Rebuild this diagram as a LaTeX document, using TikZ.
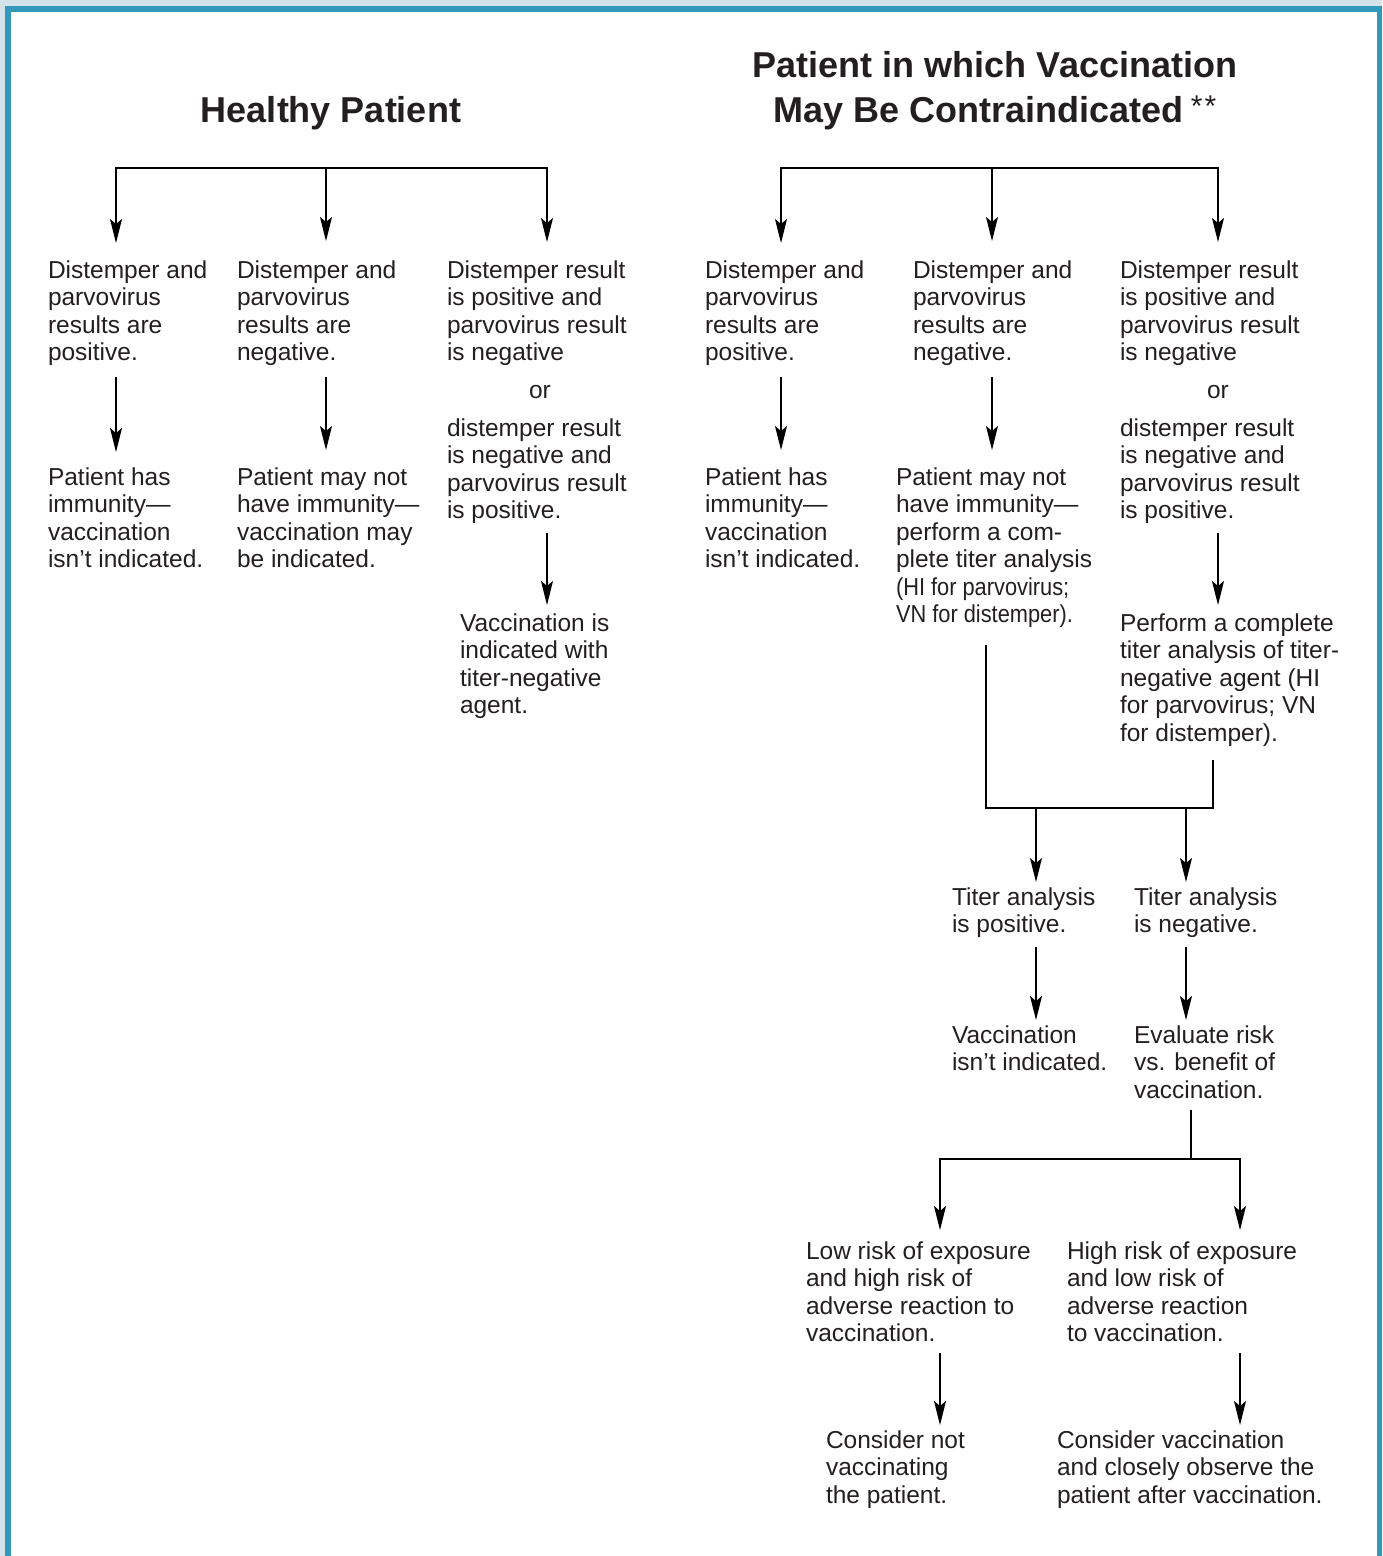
\documentclass[tikz,border=0pt]{standalone}
\usepackage{fontspec}
\usepackage{graphicx}
\setmainfont{Liberation Sans}
\usetikzlibrary{arrows.meta}
\definecolor{framebg}{RGB}{212,226,236}
\definecolor{frameteal}{RGB}{52,152,186}
\definecolor{ink}{RGB}{35,31,32}
\newcommand\bx[1]{\rule{0pt}{20pt}#1\rule[-7pt]{0pt}{7pt}}
\newcommand\cnd[1]{\scalebox{0.89}[1]{#1}}
\tikzset{
  txt/.style={anchor=north west, align=left, inner sep=0pt, outer sep=0pt, text=ink,
              font=\fontsize{24.5}{27.5}\selectfont},
  ortxt/.style={anchor=base, inner sep=0pt, text=ink, font=\fontsize{24.5}{27.5}\selectfont},
  ttl/.style={inner sep=0pt, text=ink, font=\bfseries\fontsize{36}{45}\selectfont},
  ln/.style={line width=1.3pt, draw=black},
  arr/.style={ln, -{Stealth[length=24pt,width=12pt,inset=5pt]}},
}
\begin{document}
\begin{tikzpicture}[x=1pt,y=-1pt]
\useasboundingbox (0,0) rectangle (1382,1556);
% frame
\fill[framebg] (0,0) rectangle (1382,1556);
\fill[frameteal] (5,6) rectangle (1382,1556);
\fill[white] (11,12) rectangle (1377,1556);

% titles
\node[ttl, anchor=base] (tH) at (331,122) {Healthy Patient};
\node[ttl, anchor=north, align=center] (tR) at (995,47)
  {\rule{0pt}{30pt}Patient in which Vaccination\\May Be Contraindicated\hspace{7pt}\raisebox{6pt}{\mdseries\fontsize{30}{30}\selectfont *\kern2pt*}};

% healthy patient branch
\node[txt] (H1) at (48,258) {\bx{Distemper and\\parvovirus\\results are\\positive.}};
\node[txt] (H2) at (237,258) {\bx{Distemper and\\parvovirus\\results are\\negative.}};
\node[txt] (H3) at (447,258) {\bx{Distemper result\\is positive and\\parvovirus result\\is negative}};
\node[ortxt] (Hor) at (540,398) {or};
\node[txt] (H3c) at (447,416) {\bx{distemper result\\is negative and\\parvovirus result\\is positive.}};
\node[txt] (H1b) at (48,465) {\bx{Patient has\\immunity—\\vaccination\\isn’t indicated.}};
\node[txt] (H2b) at (237,465) {\bx{Patient may not\\have immunity—\\vaccination may\\be indicated.}};
\node[txt] (H3b) at (460,611) {\bx{Vaccination is\\indicated with\\titer-negative\\agent.}};

% contraindicated branch
\node[txt] (R1) at (705,258) {\bx{Distemper and\\parvovirus\\results are\\positive.}};
\node[txt] (R2) at (913,258) {\bx{Distemper and\\parvovirus\\results are\\negative.}};
\node[txt] (R3) at (1120,258) {\bx{Distemper result\\is positive and\\parvovirus result\\is negative}};
\node[ortxt] (Ror) at (1218,398) {or};
\node[txt] (R3c) at (1120,416) {\bx{distemper result\\is negative and\\parvovirus result\\is positive.}};
\node[txt] (R1b) at (705,465) {\bx{Patient has\\immunity—\\vaccination\\isn’t indicated.}};
\node[txt] (R2b) at (896,465) {\bx{Patient may not\\have immunity—\\perform a com-\\plete titer analysis\\\cnd{(HI for parvovirus;}\\\cnd{VN for distemper).}}};
\node[txt] (R3b) at (1120,611) {\bx{Perform a complete\\titer analysis of titer-\\negative agent (HI\\for parvovirus; VN\\for distemper).}};
\node[txt] (T1) at (952,885) {\bx{Titer analysis\\is positive.}};
\node[txt] (T2) at (1134,885) {\bx{Titer analysis\\is negative.}};
\node[txt] (V1) at (952,1023) {\bx{Vaccination\\isn’t indicated.}};
\node[txt] (E1) at (1134,1023) {\bx{Evaluate risk\\vs. benefit of\\vaccination.}};
\node[txt] (L1) at (806,1239) {\bx{Low risk of exposure\\and high risk of\\adverse reaction to\\vaccination.}};
\node[txt] (L2) at (1067,1239) {\bx{High risk of exposure\\and low risk of\\adverse reaction\\to vaccination.}};
\node[txt] (C1) at (826,1428) {\bx{Consider not\\vaccinating\\the patient.}};
\node[txt] (C2) at (1057,1428) {\bx{Consider vaccination\\and closely observe the\\patient after vaccination.}};

% junction coordinates
\coordinate (hb1) at (116,168);
\coordinate (hb2) at (326,168);
\coordinate (hb3) at (547,168);
\coordinate (rb1) at (781,168);
\coordinate (rb2) at (992,168);
\coordinate (rb3) at (1218,168);
\coordinate (jl) at (986,808);
\coordinate (jr) at (1213,808);
\coordinate (jt1) at (1036,808);
\coordinate (jt2) at (1186,808);
\coordinate (k) at (1191,1159);
\coordinate (kl) at (940,1159);
\coordinate (kr) at (1240,1159);

% healthy connectors
\draw[arr, shorten >=15pt] (hb2) -- (hb1) -- (H1.north -| hb1);
\draw[arr, shorten >=16pt] (hb2) -- (hb3) -- (H3.north -| hb3);
\draw[arr, shorten >=17pt] (hb2) -- (H2.north -| hb2);
\draw[arr, shorten <=9.5pt, shorten >=13pt] (H1.south -| hb1) -- (H1b.north -| hb1);
\draw[arr, shorten <=9.5pt, shorten >=15pt] (H2.south -| hb2) -- (H2b.north -| hb2);
\draw[arr, shorten <=7.5pt, shorten >=6pt] (H3c.south -| hb3) -- (H3b.north -| hb3);

% contraindicated connectors
\draw[arr, shorten >=15pt] (rb2) -- (rb1) -- (R1.north -| rb1);
\draw[arr, shorten >=16pt] (rb2) -- (rb3) -- (R3.north -| rb3);
\draw[arr, shorten >=17pt] (rb2) -- (R2.north -| rb2);
\draw[arr, shorten <=9.5pt, shorten >=15pt] (R1.south -| rb1) -- (R1b.north -| rb1);
\draw[arr, shorten <=9.5pt, shorten >=15pt] (R2.south -| rb2) -- (R2b.north -| rb2);
\draw[arr, shorten <=7.5pt, shorten >=6pt] (R3c.south -| rb3) -- (R3b.north -| rb3);

\draw[ln, shorten <=15.5pt, shorten >=12pt] (R2b.south -| jl) -- (jl) -- (jr) -- (R3b.south -| jr);
\draw[arr, shorten >=3pt] (jt1) -- (T1.north -| jt1);
\draw[arr, shorten >=3pt] (jt2) -- (T2.north -| jt2);
\draw[arr, shorten <=7.5pt, shorten >=3pt] (T1.south -| jt1) -- (V1.north -| jt1);
\draw[arr, shorten <=7.5pt, shorten >=3pt] (T2.south -| jt2) -- (E1.north -| jt2);

\draw[ln, shorten <=5pt] (E1.south -| k) -- (k);
\draw[arr, shorten >=9pt] (k) -- (kl) -- (L1.north -| kl);
\draw[arr, shorten >=9pt] (k) -- (kr) -- (L2.north -| kr);
\draw[arr, shorten <=4.5pt, shorten >=3pt] (L1.south -| kl) -- (C1.north -| kl);
\draw[arr, shorten <=4.5pt, shorten >=3pt] (L2.south -| kr) -- (C2.north -| kr);
\end{tikzpicture}
\end{document}
